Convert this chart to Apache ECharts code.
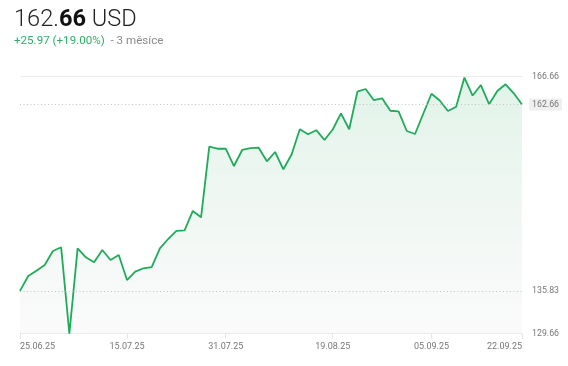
<!DOCTYPE html>
<html>
<head>
<meta charset="utf-8">
<script src="https://cdn.jsdelivr.net/npm/echarts@6/dist/echarts.min.js"></script>
<style>
html,body{margin:0;padding:0;background:#fff;}
#c{width:568px;height:366px;}
</style>
</head>
<body>
<div id="c"></div>
<script>
var dates = ['25.06.25','26.06.25','27.06.25','30.06.25','01.07.25','02.07.25','03.07.25','07.07.25','08.07.25','09.07.25',
'10.07.25','11.07.25','14.07.25','15.07.25','16.07.25','17.07.25','18.07.25','21.07.25','22.07.25','23.07.25',
'24.07.25','25.07.25','28.07.25','29.07.25','30.07.25','31.07.25','01.08.25','04.08.25','05.08.25','06.08.25',
'07.08.25','08.08.25','11.08.25','12.08.25','13.08.25','14.08.25','15.08.25','18.08.25','19.08.25','20.08.25',
'21.08.25','22.08.25','25.08.25','26.08.25','27.08.25','28.08.25','29.08.25','02.09.25','03.09.25','04.09.25',
'05.09.25','08.09.25','09.09.25','10.09.25','11.09.25','12.09.25','15.09.25','16.09.25','17.09.25','18.09.25',
'19.09.25','22.09.25'];
var prices = [135.83,137.97,138.73,139.55,141.57,142.10,129.66,141.95,140.66,139.94,
141.71,140.27,140.99,137.39,138.59,139.08,139.26,141.95,143.29,144.45,
144.55,147.33,146.42,156.58,156.29,156.29,153.80,156.11,156.39,156.44,
154.48,155.82,153.33,155.46,159.09,158.38,158.96,157.55,159.06,161.39,
159.09,164.50,164.89,163.28,163.55,161.76,161.68,158.84,158.41,161.33,
164.21,163.23,161.72,162.34,166.54,163.95,165.46,162.70,164.60,165.57,
164.27,162.66];
var xTickLabels = ['25.06.25','15.07.25','31.07.25','19.08.25','05.09.25','22.09.25'];
var yAxisMin = 129.66;
var yAxisMax = 166.66;
var lastPrice = 162.66;
var startPrice = 135.83;
var headerInt = '162.';
var headerDec = '66';
var currency = 'USD';
var changeText = '+25.97 (+19.00%)';
var periodText = '- 3 měsíce';

var chart = echarts.init(document.getElementById('c'));
var green = '#1fab5a';
var showLabel = function(i, v){ return xTickLabels.indexOf(v) >= 0; };
chart.setOption({
  animation: false,
  textStyle: {fontFamily: 'Roboto'},
  title: {
    left: 14, top: 8, padding: 0, itemGap: 3,
    text: '{a|' + headerInt + '}{b|' + headerDec + '}{a| ' + currency + '}',
    textStyle: {
      rich: {
        a: {fontSize: 23.6, fontWeight: 300, color: '#222', fontFamily: 'Roboto'},
        b: {fontSize: 23.6, fontWeight: 'bold', color: '#111', fontFamily: 'Roboto'}
      }
    },
    subtext: '{g|' + changeText + '}{s|  ' + periodText + '}',
    subtextStyle: {
      rich: {
        g: {fontSize: 11.6, color: '#2fae68', fontFamily: 'Roboto'},
        s: {fontSize: 11.6, color: '#8a8a8a', fontFamily: 'Roboto'}
      }
    }
  },
  grid: {left: 20, right: 46, top: 76.7, bottom: 32.3},
  xAxis: {
    type: 'category',
    data: dates,
    boundaryGap: false,
    axisLine: {show: false},
    axisTick: {show: true, interval: showLabel, length: 5, lineStyle: {color: '#e6e6e6'}},
    axisLabel: {interval: showLabel, color: '#777', fontSize: 9, margin: 9, fontFamily: 'Roboto',
      alignMinLabel: 'left', alignMaxLabel: 'right'},
    splitLine: {show: false}
  },
  yAxis: {
    type: 'value',
    position: 'right',
    min: yAxisMin, max: yAxisMax, interval: yAxisMax - yAxisMin,
    axisLine: {show: false},
    axisTick: {show: false},
    axisLabel: {color: '#777', fontSize: 8.8, margin: 10, fontFamily: 'Roboto',
      formatter: function(v){ return v.toFixed(2); }},
    splitLine: {lineStyle: {color: '#ececec', width: 1}}
  },
  series: [{
    type: 'line',
    data: prices,
    symbol: 'none',
    lineStyle: {color: green, width: 1.8},
    areaStyle: {
      color: new echarts.graphic.LinearGradient(0, 0, 0, 1, [
        {offset: 0, color: 'rgba(40,170,95,0.2)'},
        {offset: 1, color: 'rgba(200,200,200,0.12)'}
      ])
    },
    markLine: {
      silent: true,
      symbol: 'none',
      lineStyle: {type: [1, 2.5], color: '#c4c4c4', width: 1},
      data: [
        {yAxis: lastPrice, label: {backgroundColor: '#efefef', padding: [2, 3, 1, 3], distance: 7}},
        {yAxis: startPrice, label: {distance: 10}}
      ],
      label: {position: 'end', color: '#777', fontSize: 8.8, fontFamily: 'Roboto',
        formatter: function(p){ return p.value.toFixed(2); }}
    }
  }]
});
</script>
</body>
</html>
